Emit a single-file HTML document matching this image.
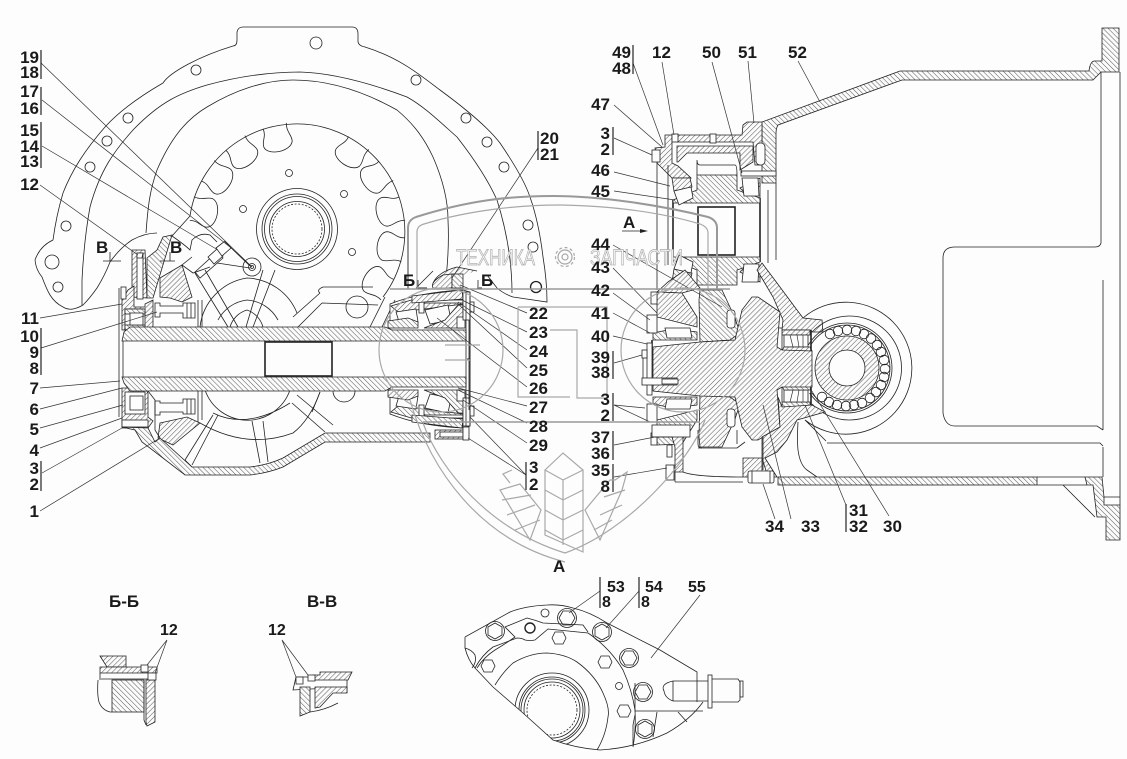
<!DOCTYPE html>
<html><head><meta charset="utf-8"><style>
html,body{margin:0;padding:0;background:#fdfdfd}
svg{display:block}
.l{fill:none;stroke:#222;stroke-width:.8}
.t{fill:none;stroke:#333;stroke-width:.7}
.w{fill:#fdfdfd;stroke:#222;stroke-width:.8}
.a{fill:url(#ha);stroke:#222;stroke-width:.8}
.b{fill:url(#hb);stroke:#222;stroke-width:.8}
.k{fill:none;stroke:#222;stroke-width:1.6}
.g{fill:none;stroke:#a8a8a8;stroke-width:1.2}
.G{fill:none;stroke:#999;stroke-width:2}
text{font-family:"Liberation Sans",sans-serif;font-weight:700;font-size:17px;fill:#1a1a1a}
.e{text-anchor:end}
.wm{font-size:22px;font-weight:400;fill:#f4f4f4;stroke:#aaa;stroke-width:.7}
</style></head><body>
<svg width="1127" height="759" viewBox="0 0 1127 759" xmlns="http://www.w3.org/2000/svg">
<defs>
<pattern id="ha" width="3.6" height="3.6" patternUnits="userSpaceOnUse" patternTransform="rotate(45)"><rect width="3.6" height="3.6" fill="#fbfbfb"/><line x1="0" y1="0" x2="0" y2="3.6" stroke="#555" stroke-width="1"/></pattern>
<pattern id="hb" width="3.6" height="3.6" patternUnits="userSpaceOnUse" patternTransform="rotate(-45)"><rect width="3.6" height="3.6" fill="#fbfbfb"/><line x1="0" y1="0" x2="0" y2="3.6" stroke="#555" stroke-width="1"/></pattern>
<clipPath id="cv"><path d="M465 637L465 648Q468 660 475 668L493 687L523 713L553 740Q575 748 600 750Q635 748 667 733Q690 720 703 702L697 672L660 650L607 623Q590 612 573 608Q560 604 547 605Q525 606 510 612Z"/></clipPath>
<g id="brg">
<path class="w" d="M390 317L390 304Q420 292 463 290L470 292L470 359L390 359Z"/>
<path class="a" d="M391 306L425 296L463 292L463 304L425 309L398 312Z"/>
<path class="w" d="M396 312L416 309L418 322L400 325Z"/>
<path class="w" d="M425 310L448 305L451 320L430 324Z"/>
<path class="b" d="M388 321L408 318L418 322L418 328L388 328Z"/>
<path class="a" d="M424 328L445 320L458 305L463 305L463 328Z"/>
<rect class="w" x="457" y="317" width="8" height="11"/>
<rect class="w" x="420" y="300" width="43" height="3"/>
<rect class="w" x="419" y="299" width="5" height="14"/>
<path class="a" d="M412 296L462 290L463 299L412 303Z"/>
<rect class="w" x="463" y="292" width="7" height="28"/>
<rect class="w" x="470" y="302" width="4" height="10"/>
</g>
<g id="ub">
<path class="a" d="M672 178L690 178L692 187L674 191Z"/>
<path class="w" d="M674 191L691 187L693 198L679 205Z"/>
<path class="a" d="M740 188L760 178L760 186L744 192Z"/>
<path class="w" d="M742 178L758 178L759 196L744 196Z"/>
</g>
<g id="dg">
<path class="b" d="M699 300L700 290L722 290L735 318L740 333L730 340L700 342Z"/>
<rect class="w" x="727" y="310" width="8" height="18" rx="3"/>
<path class="a" d="M657 292L682 293L697 317L697 327L657 317Z"/>
<path class="b" d="M653 340L697 340L697 332L673 329L653 333Z"/>
<path class="w" d="M665 328L690 328L692 338L667 338Z"/>
<rect class="w" x="647" y="315" width="10" height="18"/>
<rect class="w" x="651" y="292" width="6" height="12"/>
<path class="a" d="M782 330L810 330L810 335L782 335Z"/>
<path class="w" d="M784 335L808 335L808 347L784 347Z"/>
<path class="t" d="M790 335L793 347M797 335L799 347M803 335L803 347"/>
<path class="a" d="M784 347L810 347L812 351L782 351Z"/>
<rect class="w" x="777" y="328" width="5" height="22"/>
<path class="k" d="M811 330L811 351"/>
</g>
</defs>

<!-- rear flange -->
<path class="l" d="M237 40Q237 46 233 46C200 56 170 72 163 83Q125 105 105 127C85 150 72 170 63 193C58 210 55 225 53 240Q40 246 35 260Q36 270 42 277C45 285 47 290 50 295Q55 303 63 307Q68 310 73 309Q78 308 83 305Q90 298 97 288Q105 275 110 262Q120 248 132 240Q145 233 157 233"/>
<path class="l" d="M237 40L237 32Q238 27 243 27L352 27Q358 27 358 34L358 42Q359 46 365 47C400 58 420 75 440 90C470 112 490 130 500 143C515 165 525 182 530 197C538 220 541 240 543 257C546 275 547 290 547 302L513 297Q504 294 497 288L487 275"/>
<path class="l" d="M82 305L82 280Q84 240 90 207C100 170 115 150 133 130C160 102 180 93 207 85Q255 72 300 72C335 73 375 85 407 97C425 107 440 122 457 137C475 160 488 180 497 200C508 235 512 265 512 293"/>
<path class="l" d="M146 233C148 205 150 190 157 170C170 140 185 120 207 107C235 90 265 80 293 80C330 80 365 92 397 110C415 125 425 140 433 157C443 180 448 200 448 220C449 240 448 260 446 278"/>
<g class="l">
<circle cx="316" cy="43" r="6"/><circle cx="196" cy="70" r="5"/><circle cx="128" cy="118" r="5"/><circle cx="107" cy="141" r="5"/><circle cx="90" cy="167" r="5"/><circle cx="66" cy="226" r="5"/><circle cx="52" cy="262" r="7"/><circle cx="58" cy="287" r="5"/>
<circle cx="416" cy="80" r="5"/><circle cx="466" cy="118" r="5"/><circle cx="487" cy="142" r="5"/><circle cx="504" cy="167" r="5"/><circle cx="528" cy="225" r="5"/><circle cx="533" cy="247" r="5"/>
</g>
<circle cx="536" cy="287" r="5.5" fill="none" stroke="#222" stroke-width="1.3"/>

<!-- gear disc -->
<path class="l" d="M190 216A108 108 0 1 1 383 297M190 216L172 236"/>
<g class="l">
<path d="M285 124C287 132 281 136 282 142C284 152 308 152 311 142C312 136 307 132 309 123" transform="rotate(-12 297 231)"/>
<path d="M285 124C287 132 281 136 282 142C284 152 308 152 311 142C312 136 307 132 309 123" transform="rotate(-35 297 231)"/>
<path d="M285 124C287 132 281 136 282 142C284 152 308 152 311 142C312 136 307 132 309 123" transform="rotate(-56 297 231)"/>
<path d="M285 124C287 132 281 136 282 142C284 152 308 152 311 142C312 136 307 132 309 123" transform="rotate(-78 297 231)"/>
<path d="M285 124C287 132 281 136 282 142C284 152 308 152 311 142C312 136 307 132 309 123" transform="rotate(35 297 231)"/>
<path d="M285 124C287 132 281 136 282 142C284 152 308 152 311 142C312 136 307 132 309 123" transform="rotate(56 297 231)"/>
<path d="M285 124C287 132 281 136 282 142C284 152 308 152 311 142C312 136 307 132 309 123" transform="rotate(78 297 231)"/>
<path d="M285 124C287 132 281 136 282 142C284 152 308 152 311 142C312 136 307 132 309 123" transform="rotate(100 297 231)"/>
<path d="M285 124C287 132 281 136 282 142C284 152 308 152 311 142C312 136 307 132 309 123" transform="rotate(123 297 231)"/>
</g>
<g class="l">
<circle cx="297" cy="229" r="40.5"/><circle cx="297" cy="229" r="35"/><circle cx="297" cy="229" r="32.5"/><circle cx="297" cy="229" r="27.5"/>
<circle cx="297" cy="229" r="25" stroke-dasharray="2 1.6"/>
<circle cx="289" cy="173" r="3.5"/><circle cx="344" cy="194" r="3.5"/><circle cx="243" cy="209" r="3.5"/><circle cx="352" cy="252" r="3.5"/>
<!-- lever area -->
<path d="M172 236Q185 245 190 250L192 240Q200 232 210 235L217 242"/>
<path d="M192 257L182 265L193 273L210 267"/>
<path d="M195 272L217 252L223 258L200 278Z"/>
<path class="w" d="M208 257L217 249L223 256L214 264Z"/>
<path class="w" d="M216 248L225 241L231 248L222 256Z"/>
<path d="M230 247L252 267M217 263L250 268M225 242L250 266"/>
<circle cx="252" cy="267" r="9"/><circle cx="252" cy="267" r="3.5"/><circle cx="252" cy="267" r="1.5"/>
<path d="M275 270L253 327M263 270L246 327"/>
<path d="M195 273L228 327M205 270L238 327"/>
<path d="M200 327A56 56 0 0 1 247 278A56 56 0 0 1 297 313"/>
<path d="M218 320A38 38 0 0 1 247 300A38 38 0 0 1 278 320"/>
<path d="M230 327A25 25 0 0 1 247 310A25 25 0 0 1 263 327"/>
<path d="M323 287L373 287M320 293L293 317M322 303L378 305M298 327L322 303M370 327L385 297M382 327L395 300"/>
<path d="M323 287Q316 290 320 293"/>
<circle cx="357" cy="307" r="11"/>
<path d="M205 390A45 45 0 0 0 290 390M213 413Q247 430 290 403M200 423Q247 450 293 433Q310 420 320 392"/>
<path d="M213 415L185 460M218 415L192 465M252 421L260 463M263 421L268 462M292 403L325 432M297 395L333 425M320 392L312 412"/>
<path d="M333 391A11 11 0 0 0 355 391"/>
</g>

<!-- left wall -->
<path class="a" d="M132 250L145 250L147 298L132 297Z"/>
<rect class="w" x="137" y="253" width="6" height="46"/>
<path class="b" d="M147 258L157 250L163 237L172 235L153 298L147 298Z"/>
<path class="a" d="M160 278L182 265L192 297L182 302L170 298L160 297Z"/>
<path class="w" d="M137 253L137 258L142 258L143 253Z"/>
<path class="l" d="M198 300L198 327M202 300L202 327M198 391L198 423M202 391L202 420"/>
<path class="a" d="M128 290L134 286L134 307L145 307L145 304L153 300L153 330L122 330L122 300Z"/>
<rect class="w" x="121" y="287" width="5" height="12"/>
<rect class="w" x="125" y="309" width="20" height="21"/>
<rect class="b" x="125" y="309" width="20" height="5"/>
<rect class="b" x="125" y="325" width="20" height="5"/>
<rect class="w" x="130" y="313" width="13" height="12"/>
<path class="w" d="M155 303L160 303L160 306L183 306L183 303L195 303L195 318L183 318L183 313L160 313L160 317L155 317Z"/>
<path class="l" d="M187 303L187 318M191 303L191 318"/>

<!-- lower left -->
<path class="a" d="M122 388L145 388L148 393L148 417L153 421L148 428L122 428Z"/>
<rect class="w" x="125" y="392" width="20" height="22"/>
<rect class="w" x="130" y="396" width="13" height="14"/>
<rect class="w" x="122" y="420" width="26" height="7"/>
<path class="w" d="M155 401L160 401L160 403L183 403L183 399L195 399L195 414L183 414L183 412L160 412L160 415L155 415Z"/>
<path class="l" d="M187 399L187 414M191 399L191 414"/>
<path class="a" d="M160 423L187 417L200 423L173 445L158 438Z"/>
<path class="b" d="M122 427L135 430L142 442L185 475L250 475Q268 473 283 467L325 442L430 442L430 433L325 433L283 458Q268 465 250 467L192 467L160 438L155 442L148 428Z"/>
<path class="l" d="M185 460L192 467M148 391L155 400L155 430L160 438"/>

<!-- mid bearing -->
<use href="#brg"/>
<use href="#brg" transform="translate(0,718) scale(1,-1)"/>

<!-- main shaft -->
<rect x="121" y="341" width="346" height="36" fill="#fdfdfd"/>
<path class="b" d="M122 341L124 332L130 327L385 327L392 330L466 330L466 341Z"/>
<path class="b" d="M122 377L124 383L130 391L385 391L392 387L466 387L466 377Z"/>
<path class="l" d="M119 288L119 417M123 341L123 377"/>
<rect class="k" x="265" y="342" width="67" height="34" style="fill:#fdfdfd"/>

<path class="l" d="M466 292L466 426M470 292L470 426M469 320L469 410"/>
<path class="a" d="M433 283Q438 272 457 267L477 271M443 275L452 274L452 288L433 288Q430 282 443 275Z"/>
<rect class="b" x="452" y="274" width="11" height="14"/>
<rect class="a" x="435" y="430" width="33" height="9"/>
<rect class="w" x="440" y="432" width="23" height="5"/>
<rect class="w" x="463" y="427" width="6" height="13"/>
<path class="l" d="M433 271Q420 284 416 288"/>
<path class="k" d="M416 288L427 288M477 288L482 288" style="stroke-width:1"/>

<!-- right housing -->
<path class="b" d="M762 122L900 71L1089 71Q1090 62 1094 61L1102 61L1102 28L1119 28L1119 72L1101 72L1093 80L902 80L778 125Q776 128 776 134L776 183L762 183Z"/>
<path class="a" d="M665 135L742 135L743 125L747 122L762 122L762 165L755 165L753 142L677 142L677 135L672 135L672 163L678 166L691 178L672 178L657 163L655 148L665 147Z"/>
<path class="a" d="M677 146L753 146L753 162L740 170L740 153L687 153L678 162L677 162Z"/>
<rect class="w" x="652" y="150" width="8" height="12"/>
<rect class="w" x="672" y="134" width="6" height="8"/>
<rect class="w" x="710" y="134" width="6" height="9"/>
<rect class="w" x="756" y="143" width="9" height="22" rx="4"/>
<rect class="w" x="741" y="171" width="35" height="5"/>
<path class="l" d="M657 163L657 290M668 165L668 265M760 183L760 262M768 190L768 263M776 183L776 260M697 175L697 160Q697 165 700 165L735 165Q737 165 737 175"/>
<path class="k" d="M673 200L673 262M760 198L760 262"/>
<path class="b" d="M697 175L737 175L737 190L760 198L760 203L673 203L673 200L697 190Z"/>
<path class="b" d="M697 285L737 285L737 270L760 262L760 257L673 257L673 260L697 270Z"/>
<rect class="k" x="698" y="207" width="37" height="48" style="fill:#fdfdfd"/>
<use href="#ub"/><use href="#ub" transform="translate(0,460) scale(1,-1)"/>
<path class="a" d="M762 263L777 283L797 310L803 318L822 320L823 332L812 332L810 330L782 330L783 320L773 297L763 280L757 270Z"/>
<path class="a" d="M657 292L668 282L685 270L700 288L682 293Z"/>

<!-- ball bearing -->
<g class="l">
<path d="M803 318A66 66 0 1 1 805 420L826 441"/>
<path d="M812 332A52 52 0 1 1 812 404"/>
<circle cx="847" cy="368" r="45"/>
<circle cx="847" cy="368" r="43"/>
</g>
<circle class="a" cx="847" cy="368" r="32"/>
<circle class="w" cx="847" cy="368" r="18"/>
<g class="l">
<circle cx="830" cy="334" r="4.8"/><circle cx="838" cy="331" r="4.8"/><circle cx="847" cy="330" r="4.8"/><circle cx="856" cy="331" r="4.8"/><circle cx="864" cy="334" r="4.8"/><circle cx="871" cy="338.5" r="4.8"/><circle cx="877" cy="345" r="4.8"/><circle cx="881" cy="352" r="4.8"/><circle cx="884" cy="360" r="4.8"/><circle cx="885" cy="369" r="4.8"/><circle cx="884" cy="377" r="4.8"/><circle cx="881" cy="385" r="4.8"/><circle cx="876" cy="392" r="4.8"/><circle cx="870" cy="398" r="4.8"/><circle cx="862" cy="403" r="4.8"/><circle cx="854" cy="405" r="4.8"/><circle cx="846" cy="406" r="4.8"/><circle cx="837" cy="405" r="4.8"/><circle cx="829" cy="402" r="4.8"/><circle cx="822" cy="397" r="4.8"/>
</g>

<!-- differential -->
<rect x="745" y="345" width="68" height="48" fill="#fdfdfd"/>
<use href="#dg"/><use href="#dg" transform="translate(0,737) scale(1,-1)"/>
<path class="a" d="M653 347L700 342L735 340L742 310L752 297L758 297L780 312L777 347L782 350L812 351L812 387L782 387L777 390L780 427L758 440L752 440L742 427L735 397L700 396L653 391Z"/>
<path class="k" d="M652 340L652 377"/>
<rect class="w" x="647" y="343" width="5" height="52"/>
<rect class="w" x="642" y="350" width="5" height="8"/>
<path class="l" d="M643 358L643 378"/>
<rect class="w" x="642" y="378" width="35" height="7"/>
<rect class="w" x="662" y="379" width="16" height="5"/>
<path class="a" d="M778 397L782 407L812 405L825 412L797 420L787 440L777 452L765 458L777 477L768 477L762 458L762 437L780 427Z"/>
<path class="l" d="M798 422Q797 440 798 450Q800 465 807 470L817 477M827 443L1100 443L1103 446M1103 280L1103 430M1103 447L1103 477M698 448L737 448"/>
<path class="l" d="M698 430L698 444Q698 448 702 448M737 430L737 444"/>
<path class="l" d="M737 448L745 442"/>
<path class="a" d="M672 437L683 433L683 472L675 472L675 447Z"/>
<rect class="w" x="652" y="425" width="38" height="12"/>
<rect class="w" x="667" y="445" width="5" height="12"/>
<rect class="w" x="666" y="465" width="8" height="15"/>
<path class="l" d="M683 472Q695 477 743 477M675 482L743 482M675 482L675 472M652 437L672 437"/>
<path class="a" d="M743 458L762 458L762 477L743 477Z"/>
<rect class="w" x="748" y="471" width="26" height="12" rx="2"/>
<path class="l" d="M752 471L752 483M770 471L770 483M763 437L763 470"/>

<!-- bottom wall + flange -->
<rect class="b" x="778" y="477" width="259" height="8"/>
<path class="l" d="M1037 477L1085 477M1037 485L1087 485"/>
<path class="b" d="M1085 477L1102 477L1104 497L1104 505L1120 505L1120 540L1106 540L1106 517L1097 517L1093 485L1087 485Z"/>
<path class="l" d="M1063 485L1095 517M1101 72L1101 243Q1100 247 1095 247L955 247Q943 247 943 258L943 413Q945 426 955 426L1097 426L1103 430M1120 72L1120 505M1104 497L1120 497"/>

<!-- leaders -->
<g class="t">
<path d="M41 63L252 267M42 100L230 247M42 146L218 250M40 185L138 255M40 318L122 304M41 348L157 312M40 388L120 381M40 409L122 388M40 428L123 405M40 448L122 418M42 473L122 428M40 511L160 438"/>
<path d="M527 313L460 285M527 332L462 300M527 350L458 302M527 368L457 303M527 387L437 318M527 406L458 388M527 423L458 390M527 443L463 400M526 475L470 417M526 475L468 438"/>
<path d="M613 245L722 307M613 268L657 313M613 293L650 320M613 313L650 333M613 336L647 344M614 363L642 355M614 405L645 408M614 405L650 422M614 445L655 437M614 477L667 468"/>
<path d="M633 63L663 145M662 62L674 135M712 62L742 173M748 61L754 123M798 61L820 102M614 105L662 147M614 138L652 155M614 172L670 186M614 191L675 200"/>
<path d="M538 148L452 278"/>
<path d="M775 519L763 484M791 519L763 405M846 505L805 405M889 516L810 388"/>
</g>
<g stroke="#111" stroke-width="1.1" fill="none">
<path d="M41 50V79M41 87V115M41 122V168M41 328V375M41 461V491M538 131V160M526 462V490M613 351V379M613 393V421M613 431V460M613 464V492M633 45V74M613 127V155M846 504V532M600 577V608M639 577V608"/>
</g>

<!-- watermark -->
<g>
<path class="G" d="M408 289L408 228Q408 220 416 217C470 200 510 196 553 196C600 196 660 205 708 217Q717 220 717 228L717 289"/>
<path class="g" d="M417 289L417 232Q417 226 424 224C470 210 520 205 560 205C610 206 660 212 700 224Q708 227 708 233L708 289"/>
<path class="G" d="M390 289L730 289M423 422L700 422" style="stroke-width:1.6"/>
<path class="g" d="M423 423C440 470 490 530 565 553C630 530 690 460 705 420M410 400C430 470 480 540 565 562"/>
<path class="g" d="M518 307L518 397L570 397M518 307L607 307L607 398L577 398L577 330L550 330M445 345L480 345M445 360L470 360"/>
<circle class="g" cx="441" cy="350" r="62"/>
<circle class="g" cx="683" cy="350" r="62"/>
<text class="wm" x="456" y="265" textLength="79" lengthAdjust="spacingAndGlyphs">ТЕХНИКА</text>
<text class="wm" x="590" y="265" textLength="93" lengthAdjust="spacingAndGlyphs">ЗАПЧАСТИ</text>
<circle class="g" cx="565" cy="257" r="7"/><circle class="g" cx="565" cy="257" r="3"/>
<circle class="g" cx="565" cy="257" r="9.5" stroke-dasharray="3 2.5"/>
<path class="g" d="M545 470L563 453L583 470L583 552L545 535ZM545 470L563 480L583 470M563 480L563 545M545 490L563 500L583 490M545 510L563 520L583 510M545 530L563 540L583 530"/>
<path class="g" d="M510 483L503 474L512 470M500 490L530 540L541 510L520 484ZM502 500L531 495M507 515L535 505M515 530L540 520"/>
<path class="g" d="M615 480L627 472L622 490L600 540L585 510L610 480ZM604 497L625 490M600 515L622 505M594 530L612 520"/>
</g>

<!-- labels left -->
<text class="e" x="39" y="63">19</text><text class="e" x="39" y="78">18</text>
<text class="e" x="39" y="97">17</text><text class="e" x="39" y="114">16</text>
<text class="e" x="39" y="136">15</text><text class="e" x="39" y="152">14</text><text class="e" x="39" y="167">13</text>
<text class="e" x="39" y="190">12</text>
<text class="e" x="39" y="324">11</text>
<text class="e" x="39" y="342">10</text><text class="e" x="39" y="358">9</text><text class="e" x="39" y="374">8</text>
<text class="e" x="39" y="394">7</text><text class="e" x="39" y="415">6</text><text class="e" x="39" y="435">5</text><text class="e" x="39" y="456">4</text>
<text class="e" x="39" y="474">3</text><text class="e" x="39" y="490">2</text><text class="e" x="39" y="517">1</text>
<text x="96" y="253">В</text><text x="170" y="253">В</text>
<path class="l" d="M103 261L121 261M160 261L175 261M110 252L110 261M170 252L170 261"/>
<text x="540" y="144">20</text><text x="540" y="160">21</text>
<!-- centre labels -->
<text x="529" y="319">22</text><text x="529" y="338">23</text><text x="529" y="357">24</text><text x="529" y="376">25</text><text x="529" y="394">26</text><text x="529" y="413">27</text><text x="529" y="432">28</text><text x="529" y="451">29</text>
<text x="529" y="473">3</text><text x="529" y="490">2</text>
<text x="403" y="286">Б</text><text x="481" y="286">Б</text>
<path class="l" d="M418 280L418 287M478 280L478 287"/>
<text x="623" y="228">А</text>
<path class="l" d="M622 231L645 231"/><path d="M648 231L640 229L640 233Z" fill="#222"/>
<!-- right labels -->
<text class="e" x="610" y="250">44</text><text class="e" x="610" y="273">43</text><text class="e" x="610" y="296">42</text><text class="e" x="610" y="319">41</text><text class="e" x="610" y="342">40</text><text class="e" x="610" y="363">39</text><text class="e" x="610" y="378">38</text>
<text class="e" x="610" y="405">3</text><text class="e" x="610" y="421">2</text>
<text class="e" x="610" y="443">37</text><text class="e" x="610" y="459">36</text><text class="e" x="610" y="476">35</text><text class="e" x="610" y="492">8</text>
<text class="e" x="631" y="58">49</text><text class="e" x="631" y="74">48</text>
<text x="652" y="58">12</text><text x="702" y="58">50</text><text x="738" y="58">51</text><text x="788" y="58">52</text>
<text class="e" x="610" y="110">47</text><text class="e" x="610" y="139">3</text><text class="e" x="610" y="155">2</text><text class="e" x="610" y="176">46</text><text class="e" x="610" y="197">45</text>
<text x="765" y="532">34</text><text x="801" y="532">33</text><text x="849" y="516">31</text><text x="849" y="532">32</text><text x="883" y="532">30</text>

<!-- sections -->
<text x="109" y="607">Б-Б</text><text x="307" y="607">В-В</text>
<text x="160" y="635" style="font-size:16px">12</text><text x="268" y="635" style="font-size:16px">12</text>
<path class="a" d="M100 656L126 656L126 667L107 667Z"/>
<path class="a" d="M100 667L157 667L157 673L100 673Z"/>
<path class="l" d="M101 679L153 679M100 673L100 680M98 680Q97 695 99 702Q102 710 110 712"/>
<rect class="b" x="112" y="680" width="32" height="32"/>
<path class="a" d="M146 680L155 680L155 722L147 726L146 722Z"/>
<path class="l" d="M110 712L112 712M144 680L144 720L146 725"/>
<path class="w" d="M141 665L148 665L148 672L141 672ZM148 673L156 673L156 680L148 680Z"/>
<path class="t" d="M167 640L147 665M167 640L155 673M282 640L296 677M282 640L308 675"/>
<path class="a" d="M320 672L352 672L348 680L313 680L313 675L320 675Z"/>
<path class="l" d="M296 677L313 677M296 677L293 690L347 687M347 680L347 693"/>
<path class="b" d="M300 687L310 687L310 712L300 716Z"/>
<path class="a" d="M315 687L347 687L347 693L333 693L320 707L315 708Z"/>
<path class="l" d="M310 712Q325 710 338 703"/>
<path class="w" d="M296 677L303 677L303 684L296 684ZM308 675L315 675L315 681L308 681Z"/>

<!-- view A -->
<text x="553" y="572">А</text>
<text x="607" y="592" style="font-size:16px">53</text><text x="602" y="607" style="font-size:16px">8</text>
<text x="645" y="592" style="font-size:16px">54</text><text x="641" y="607" style="font-size:16px">8</text>
<text x="688" y="592" style="font-size:16px">55</text>
<path class="l" d="M465 637L465 648Q468 660 475 668L493 687L523 713L553 740Q575 748 600 750Q635 748 667 733Q690 720 703 702M697 702L697 672L660 650L607 623Q590 612 573 608Q560 604 547 605Q525 606 510 612L465 637"/>
<path class="l" d="M475 668Q482 655 493 647L517 638Q522 638 525 640Q530 641 535 640L548 629L588 633Q610 648 623 670Q632 690 635 710Q636 730 633 747"/>
<path class="l" d="M477 668Q484 657 495 650Q505 644 515 637L505 627L527 618Q535 620 543 623L583 625L588 632"/>
<path class="l" d="M495 685Q503 672 513 663Q530 653 547 653Q565 654 577 662Q595 675 603 693Q610 708 608 717Q606 735 597 750"/>
<path class="l" d="M465 648Q472 650 475 655Q477 662 472 668"/>
<g clip-path="url(#cv)">
<circle class="l" cx="552" cy="710" r="37"/><circle class="l" cx="552" cy="710" r="33"/><circle class="l" cx="552" cy="710" r="31"/>
<circle class="l" cx="552" cy="710" r="28"/><circle class="l" cx="552" cy="710" r="25" stroke-dasharray="2 1.6"/>
</g>
<g class="l">
<circle cx="495" cy="631" r="9.5"/><polygon points="495,623 502,627 502,635 495,639 488,635 488,627"/>
<circle cx="567" cy="618" r="9.5"/><polygon points="559,618 563,611 571,611 575,618 571,625 563,625"/>
<circle cx="602" cy="632" r="9.5"/><polygon points="602,624 609,628 609,636 602,640 595,636 595,628"/>
<circle cx="629" cy="658" r="9.5"/><polygon points="621,658 625,651 633,651 637,658 633,665 625,665"/>
<circle cx="643" cy="692" r="9.5"/><polygon points="635,692 639,685 647,685 651,692 647,699 639,699"/>
<circle cx="645" cy="729" r="9.5"/><polygon points="645,721 652,725 652,733 645,737 638,733 638,725"/>
<polygon points="552,638 555,632 563,632 566,638 563,644 555,644"/>
<polygon points="598,662 601,656 609,656 612,662 609,668 601,668"/>
<polygon points="481,666 484,660 492,660 495,666 492,672 484,672"/>
<polygon points="617,711 620,705 628,705 631,711 628,717 620,717"/>
<circle cx="545" cy="613" r="4"/><circle cx="619" cy="686" r="3.5"/>
<path d="M635 683L635 711L703 711M657 712L653 737M678 712L687 722M635 715L633 725L633 745"/>
<path d="M673 681L708 681M673 701L708 701M673 681Q660 684 664 691Q665 698 673 701M673 681L673 701"/>
<rect x="708" y="675" width="4" height="33"/>
<path d="M712 679L738 679L740 682L740 700L738 702L712 702"/>
<rect x="740" y="681" width="3" height="16"/>
</g>
<circle cx="530" cy="628" r="5" fill="none" stroke="#222" stroke-width="1.4"/>
<g class="t">
<path d="M600 591L569 613M639 591L606 628M700 595L651 658"/>
</g>
</svg>
</body></html>
